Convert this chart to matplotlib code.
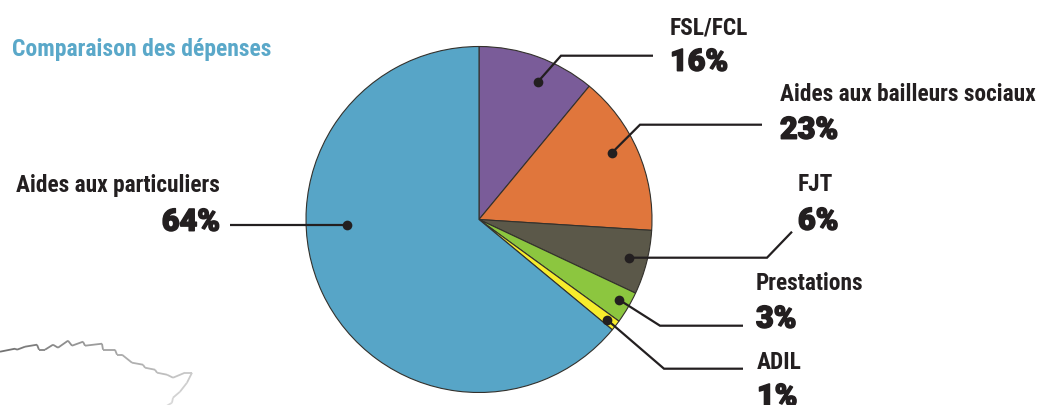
import matplotlib
matplotlib.use("Agg")
import matplotlib.pyplot as plt
import matplotlib.patheffects as pe
from matplotlib.collections import LineCollection
import numpy as np

W, H = 1051, 406
names = ["FSL/FCL", "Aides aux bailleurs sociaux", "FJT", "Prestations", "ADIL", "Aides aux particuliers"]
shares = [11, 15, 6, 3, 1, 64]
printed = ["16%", "23%", "6%", "3%", "1%", "64%"]
colors = ["#7A5C99", "#E0763C", "#5B5849", "#8CC63F", "#F7EC2C", "#57A5C7"]
title = "Comparaison des dépenses"

name_x = [670, 780, 798, 756, 757, 220]
name_y = [27, 94, 184, 283, 362, 185]
pct_y = [62, 130, 221, 319, 397, 222]
aligns = ["left", "left", "left", "left", "left", "right"]
leaders = [
    [(538, 82), (561, 56), (653, 56)],
    [(612, 153), (640, 125), (762, 125)],
    [(629, 258), (767, 258), (792, 232)],
    [(619, 300), (660, 326), (743, 326)],
    [(607, 320), (664, 369), (743, 369)],
    [(347, 225), (230, 225)],
]
coast_x = [0, 15, 17, 25, 37, 39, 45, 53, 58, 68, 72, 83, 85, 102, 103, 115, 117, 122, 132, 143,
           145, 155, 157, 167, 173, 185, 192, 187, 180, 173, 172, 167]
coast_y = [352, 349, 350, 347, 345, 350, 350, 345, 348, 341, 346, 342, 346, 344, 350, 350, 355,
           355, 363, 365, 368, 370, 373, 375, 378, 373, 373, 383, 392, 398, 403, 406]

plt.rcParams["font.family"] = ["Roboto Condensed", "DejaVu Sans"]
fig = plt.figure(figsize=(W / 100, H / 100), dpi=100, facecolor="white")

ax = fig.add_axes([(479 - 173) / W, (H - 393.5) / H, 346 / W, 346 / H])
ax.pie(shares, colors=colors, startangle=90, counterclock=False, radius=1,
       wedgeprops=dict(edgecolor="#33312c", linewidth=0.8))
ax.set_xlim(-1, 1)
ax.set_ylim(-1, 1)
ax.set_axis_off()

ov = fig.add_axes([0, 0, 1, 1], facecolor="none")
ov.set_xlim(0, W)
ov.set_ylim(H - 0.7, -0.7)
ov.set_axis_off()

ink = "#231F20"
for path in leaders:
    xs, ys = zip(*path)
    ov.plot(xs, ys, color=ink, lw=1.6, solid_joinstyle="miter", solid_capstyle="butt")
    ov.plot(xs[0], ys[0], "o", color=ink, ms=7, mew=0)

heavy = [pe.withStroke(linewidth=1.1, foreground=ink)]
for n, nx, ny, py, p, ha in zip(names, name_x, name_y, pct_y, printed, aligns):
    ov.text(nx, ny, n, fontsize=16.8, fontweight="bold", color=ink, ha=ha, va="center")
    ov.text(nx, py, p, fontsize=22, color=ink, ha=ha, va="center", fontweight=900,
            family=["Roboto", "DejaVu Sans"], path_effects=heavy)

ov.text(12, 49, title, fontsize=17, fontweight="bold", color="#5AA8C9", ha="left", va="center")

pts = np.column_stack([coast_x, coast_y]).astype(float)
segs = np.stack([pts[:-1], pts[1:]], axis=1)
coast = LineCollection(segs, cmap="gray", linewidths=1.3, clim=(0, 1))
coast.set_array(np.linspace(0.45, 0.85, len(segs)))
ov.add_collection(coast)

fig.savefig("out.png", dpi=100, facecolor="white")
